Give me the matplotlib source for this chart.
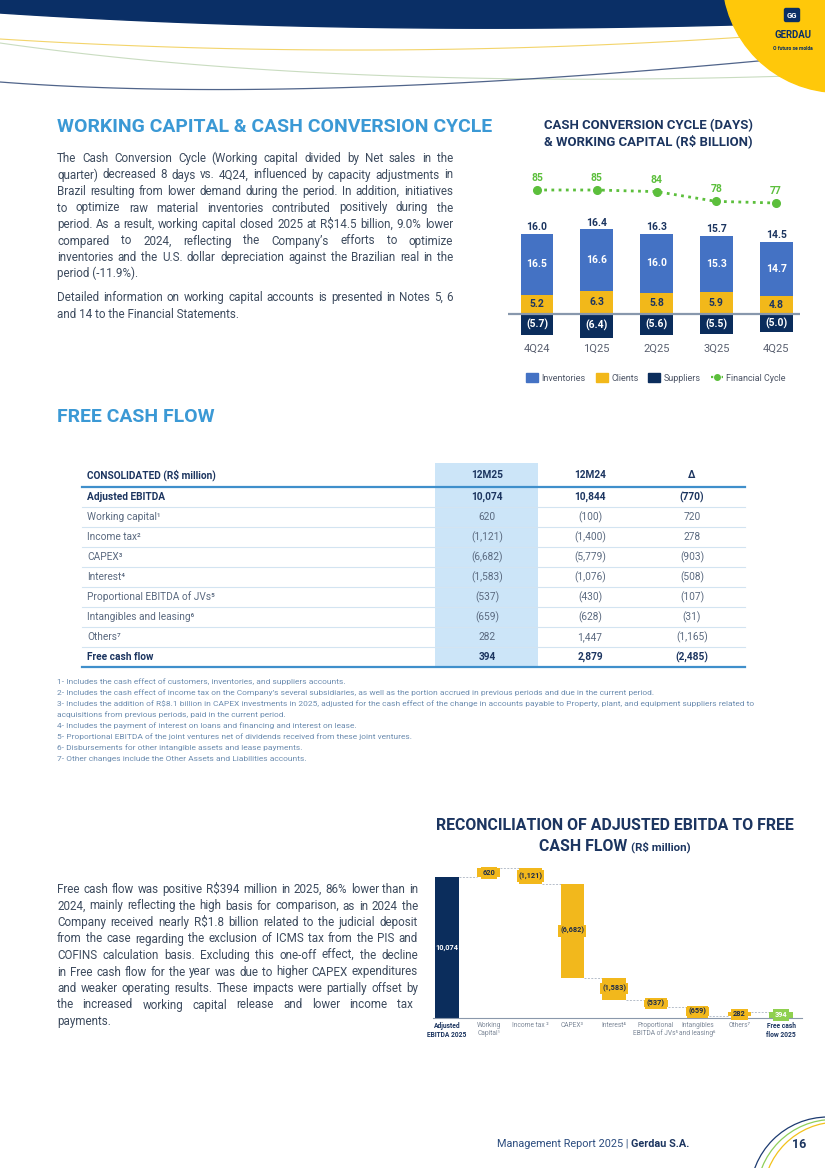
import matplotlib
matplotlib.use('Agg')
import matplotlib.pyplot as plt
from matplotlib.patches import Polygon, Rectangle, Circle, FancyBboxPatch, Patch
from matplotlib.lines import Line2D
import numpy as np

W, H = 825, 1168
FAM = ['Roboto', 'DejaVu Sans']
plt.rcParams['font.family'] = FAM

# ---------------- data ----------------
quarters = ['4Q24', '1Q25', '2Q25', '3Q25', '4Q25']
inventories = [16.5, 16.6, 16.0, 15.3, 14.7]
clients = [5.2, 6.3, 5.8, 5.9, 4.8]
suppliers = [-5.7, -6.4, -5.6, -5.5, -5.0]
working_capital = [16.0, 16.4, 16.3, 15.7, 14.5]
financial_cycle = [85, 85, 84, 78, 77]

table_labels = ['Adjusted EBITDA', 'Working capital\u00b9', 'Income tax\u00b2', 'CAPEX\u00b3',
                'Interest\u2074', 'Proportional EBITDA of JVs\u2075', 'Intangibles and leasing\u2076',
                'Others\u2077', 'Free cash flow']
table_bold = [True, False, False, False, False, False, False, False, True]
col_headers = ['12M25', '12M24', '\u0394']
v12m25 = [10074, 620, -1121, -6682, -1583, -537, -659, 282, 394]
v12m24 = [10844, -100, -1400, -5779, -1076, -430, -628, 1447, 2879]
vdelta = [-770, 720, 278, -903, -508, -107, -31, -1165, -2485]

wf_labels = ['Adjusted\nEBITDA 2025', 'Working\nCapital\u00b9', 'Income tax \u00b2', 'CAPEX\u00b3',
             'Interest\u2074', 'Proportional\nEBITDA of JVs\u2075', 'Intangibles\nand leasing\u2076',
             'Others\u2077', 'Free cash\nflow 2025']

# ---------------- colours ----------------
NAVY = '#0c2d5b'
TNAVY = '#1c3560'
HEAD = '#3b99d5'
BODY = '#3d4b5e'
INV = '#4472c4'
CLI = '#f2b81a'
SUP = '#0b2d5c'
GRN = '#5cbf3c'
YEL = '#f2b81c'
FCFG = '#8fd04f'
GOLD = '#ffc80a'

fig = plt.figure(figsize=(W / 100, H / 100), dpi=100)
fig.patch.set_facecolor('white')
bg = fig.add_axes([0, 0, 1, 1])
bg.set_xlim(0, W)
bg.set_ylim(H, 0)
bg.axis('off')
renderer = fig.canvas.get_renderer()


def px_axes(l, t, r, b):
    return fig.add_axes([l / W, 1 - b / H, (r - l) / W, (b - t) / H])


def tw(s, size, weight='normal'):
    t = bg.text(0, 0, s, fontsize=size, fontweight=weight)
    w = t.get_window_extent(renderer=renderer).width
    t.remove()
    return w


def fit(s, width, weight='normal', base=10.0):
    return base * width / tw(s, base, weight)


def bez(p0, p1, p2, n=80):
    t = np.linspace(0, 1, n)[:, None]
    p0, p1, p2 = map(np.array, (p0, p1, p2))
    return (1 - t) ** 2 * p0 + 2 * (1 - t) * t * p1 + t ** 2 * p2


def paragraph(lines, flags, x0, x1, y0, dy, size, color):
    for i, (line, j) in enumerate(zip(lines, flags)):
        y = y0 + i * dy
        if j:
            words = line.split(' ')
            ws = [tw(w_, size) for w_ in words]
            gap = (x1 - x0 - sum(ws)) / (len(words) - 1)
            x = x0
            for w_, wd in zip(words, ws):
                bg.text(x, y, w_, fontsize=size, color=color, va='baseline', ha='left')
                x += wd + gap
        else:
            bg.text(x0, y, line, fontsize=size, color=color, va='baseline', ha='left')


def fmt(v):
    s = f'{abs(v):,}'
    return f'({s})' if v < 0 else s


# ---------------- header decoration ----------------
navy_edge = bez((830, 22), (380, 38), (0, 13))
bg.add_patch(Polygon(np.vstack([[[0, 0], [830, 0]], navy_edge]), closed=True,
                     color='#0a2f66', zorder=1))
for p, c, lw in [(((0, 39), (370, 62), (745, 37)), '#f3d46a', 0.8),
                 (((0, 43), (330, 90), (790, 76)), '#c9dcc0', 0.8),
                 (((0, 82), (300, 105), (790, 58)), '#50648a', 0.9)]:
    pts = bez(*p)
    bg.plot(pts[:, 0], pts[:, 1], color=c, lw=lw, zorder=1)
bg.add_patch(Circle((839, -24), 116.5, color=GOLD, zorder=2))
bg.add_patch(FancyBboxPatch((785, 9), 14, 12, boxstyle='round,pad=0.5,rounding_size=1.5',
                            color='#0a2f66', zorder=3))
bg.text(792, 15.5, 'GG', color='white', fontsize=5.5, fontweight='bold', ha='center',
        va='center', zorder=4)
bg.text(793, 35, 'GERDAU', color='#0a2f66', fontsize=fit('GERDAU', 37, 'bold'),
        fontweight='bold', ha='center', va='center', zorder=4)
bg.text(793, 48, 'O futuro se molda', color='#0a2f66',
        fontsize=fit('O futuro se molda', 40, 'bold'), fontweight='bold', ha='center',
        va='center', zorder=4)

# ---------------- headings ----------------
h1 = 'WORKING CAPITAL & CASH CONVERSION CYCLE'
hs = fit(h1, 435, 'bold')
bg.text(57, 127, h1, fontsize=hs, fontweight='bold', color=HEAD, va='center', ha='left')
bg.text(57, 417, 'FREE CASH FLOW', fontsize=hs, fontweight='bold', color=HEAD,
        va='center', ha='left')

# ---------------- body paragraphs ----------------
paraA = ['The Cash Conversion Cycle (Working capital divided by Net sales in the',
         'quarter) decreased 8 days vs. 4Q24, influenced by capacity adjustments in',
         'Brazil resulting from lower demand during the period. In addition, initiatives',
         'to optimize raw material inventories contributed positively during the',
         'period. As a result, working capital closed 2025 at R$14.5 billion, 9.0% lower',
         'compared to 2024, reflecting the Company\u2019s efforts to optimize',
         'inventories and the U.S. dollar depreciation against the Brazilian real in the',
         'period (-11.9%).']
flagsA = [True] * 7 + [False]
paraB = ['Detailed information on working capital accounts is presented in Notes 5, 6',
         'and 14 to the Financial Statements.']
flagsB = [True, False]
paraC = ['Free cash flow was positive R$394 million in 2025, 86% lower than in',
         '2024, mainly reflecting the high basis for comparison, as in 2024 the',
         'Company received nearly R$1.8 billion related to the judicial deposit',
         'from the case regarding the exclusion of ICMS tax from the PIS and',
         'COFINS calculation basis. Excluding this one-off effect, the decline',
         'in Free cash flow for the year was due to higher CAPEX expenditures',
         'and weaker operating results. These impacts were partially offset by',
         'the increased working capital release and lower income tax',
         'payments.']
flagsC = [True] * 8 + [False]

wA = max(tw(l, 10) for l, f in zip(paraA + paraB, flagsA + flagsB) if f)
bsA = min(9.0, 10 * 396 / wA * 0.985)
paragraph(paraA, flagsA, 57, 453, 162, 16.5, bsA, BODY)
paragraph(paraB, flagsB, 57, 453, 301, 16.5, bsA, BODY)
wC = max(tw(l, 10) for l, f in zip(paraC, flagsC) if f and not l.startswith('the increased'))
bsC = min(9.0, 10 * 361 / wC * 0.985)
paragraph(paraC[:7], flagsC[:7], 57, 418, 893, 16.5, bsC, BODY)
paragraph(paraC[7:8], [True], 57, 413, 893 + 7 * 16.5, 16.5, bsC, BODY)
paragraph(paraC[8:], [False], 57, 418, 893 + 8 * 16.5, 16.5, bsC, BODY)

# ---------------- top chart ----------------
t1 = 'CASH CONVERSION CYCLE (DAYS)'
t2 = '& WORKING CAPITAL (R$ BILLION)'
ts = fit(t2, 208, 'bold')
bg.text(648, 126, t1, fontsize=ts, fontweight='bold', color=TNAVY, ha='center', va='center')
bg.text(648, 141, t2, fontsize=ts, fontweight='bold', color=TNAVY, ha='center', va='center')

PXU = 3.69
ax1 = px_axes(508, 160, 800, 340)
ax1.set_xlim(-0.485, 4.4)
ax1.set_ylim(-(340 - 314) / PXU, (314 - 160) / PXU)
x = np.arange(len(quarters))
bw = 0.55
b_cli = ax1.bar(x, clients, bw, color=CLI, zorder=2)
b_inv = ax1.bar(x, inventories, bw, bottom=clients, color=INV, zorder=2)
b_sup = ax1.bar(x, suppliers, bw, color=SUP, zorder=2)
ax1.axhline(0, color='#8898ad', lw=1.6, zorder=3)
for i in range(len(quarters)):
    ax1.text(x[i], clients[i] + inventories[i] / 2, f'{inventories[i]:.1f}', ha='center',
             va='center', color='white', fontweight='bold', fontsize=7.5, zorder=4)
    ax1.text(x[i], clients[i] / 2, f'{clients[i]:.1f}', ha='center', va='center',
             color=TNAVY, fontweight='bold', fontsize=7.5, zorder=4)
    ax1.text(x[i], suppliers[i] / 2, f'({abs(suppliers[i]):.1f})', ha='center', va='center',
             color='white', fontweight='bold', fontsize=7.5, zorder=4)
    ax1.annotate(f'{working_capital[i]:.1f}', (x[i], clients[i] + inventories[i]),
                 xytext=(0, 4.8), textcoords='offset points', ha='center', va='center',
                 color=TNAVY, fontweight='bold', fontsize=7.5)
ax1.set_xticks(x)
ax1.set_xticklabels(quarters, fontsize=8, color='#5a6070')
ax1.tick_params(axis='x', length=0, pad=3)
ax1.set_yticks([])
for s in ax1.spines.values():
    s.set_visible(False)
ax1.set_facecolor('none')

ax2 = ax1.twinx()
ax2.set_ylim(85 - (340 - 190) / 1.625, 85 + (190 - 160) / 1.625)
ln, = ax2.plot(x, financial_cycle, ls=(0, (1, 1.6)), lw=2, color=GRN, marker='o', ms=5.5)
for i, v in enumerate(financial_cycle):
    ax2.annotate(str(v), (x[i], v), xytext=(0, 8.6), textcoords='offset points',
                 ha='center', va='center', color=GRN, fontweight='bold', fontsize=7.5)
ax2.axis('off')

handles = [Patch(color=INV), Patch(color=CLI), Patch(color=SUP),
           Line2D([], [], ls=(0, (1, 1.4)), lw=1.6, color=GRN, marker='o', ms=4)]
fig.legend(handles, ['Inventories', 'Clients', 'Suppliers', 'Financial Cycle'], loc='center',
           bbox_to_anchor=(656 / W, 1 - 378 / H), ncol=4, frameon=False, fontsize=6.5,
           handlelength=1.3, handleheight=1.2, handletextpad=0.4, columnspacing=1.1,
           labelcolor='#4d5566')

# ---------------- table ----------------
bg.add_patch(Rectangle((435, 463), 103, 204, color='#cce5f8', zorder=0, lw=0))
ths = 7.3
bg.text(87, 475, 'CONSOLIDATED (R$ million)', fontsize=ths, fontweight='bold', color=TNAVY,
        va='center')
col_x = [487, 590, 692]
for cx, ch in zip(col_x, col_headers):
    bg.text(cx, 475, ch, fontsize=ths, fontweight='bold', color=TNAVY, ha='center', va='center')
bg.plot([82, 745], [487, 487], color='#3f8fcb', lw=1.6, zorder=2)
bg.plot([82, 745], [667, 667], color='#3f8fcb', lw=1.6, zorder=2)
for i in range(len(table_labels) - 1):
    yy = 507 + 20 * i
    bg.plot([82, 745], [yy, yy], color='#d3e4f1', lw=0.8, zorder=1)
for i, lab in enumerate(table_labels):
    yy = 497 + 20 * i
    wt = 'bold' if table_bold[i] else 'normal'
    col = TNAVY if table_bold[i] else '#5b6a80'
    bg.text(87, yy, lab, fontsize=ths, fontweight=wt, color=col, va='center')
    for cx, vals in zip(col_x, (v12m25, v12m24, vdelta)):
        bg.text(cx, yy, fmt(vals[i]), fontsize=ths, fontweight=wt, color=col, ha='center',
                va='center')

# ---------------- footnotes ----------------
notes = ['1- Includes the cash effect of customers, inventories, and suppliers accounts.',
         '2- Includes the cash effect of income tax on the Company\u2019s several subsidiaries, as well as the portion accrued in previous periods and due in the current period.',
         '3- Includes the addition of R$8.1 billion in CAPEX investments in 2025, adjusted for the cash effect of the change in accounts payable to Property, plant, and equipment suppliers related to',
         'acquisitions from previous periods, paid in the current period.',
         '4- Includes the payment of interest on loans and financing and interest on lease.',
         '5- Proportional EBITDA of the joint ventures net of dividends received from these joint ventures.',
         '6- Disbursements for other intangible assets and lease payments.',
         '7- Other changes include the Other Assets and Liabilities accounts.']
ns = min(6.0, fit(notes[2], 711))
for i, n in enumerate(notes):
    bg.text(57, 682 + 11 * i, n, fontsize=ns, color='#6d8db0', va='center')

# ---------------- waterfall ----------------
w1 = 'RECONCILIATION OF ADJUSTED EBITDA TO FREE'
wts = fit(w1, 357, 'bold')
bg.text(615, 826, w1, fontsize=wts, fontweight='bold', color=TNAVY, ha='center', va='center')
p1, p2 = 'CASH FLOW ', '(R$ million)'
sm = wts * 0.72
wp1, wp2 = tw(p1, wts, 'bold'), tw(p2, sm, 'bold')
x0 = 615 - (wp1 + wp2) / 2
bg.text(x0, 851, p1, fontsize=wts, fontweight='bold', color=TNAVY, ha='left', va='baseline')
bg.text(x0 + wp1, 851, p2, fontsize=sm, fontweight='bold', color=TNAVY, ha='left',
        va='baseline')

ax3 = px_axes(433, 858, 802, 1018)
ax3.set_xlim(-0.335, 8.5)
ax3.set_ylim(0, 160 / (141 / 10074))
bw3 = 0.56
xs = np.arange(len(wf_labels))
deltas = v12m25[1:-1]
ax3.bar(0, v12m25[0], bw3, color=SUP, zorder=2)
ax3.text(0, v12m25[0] / 2, fmt(v12m25[0]), color='white', fontweight='bold', fontsize=5.3,
         ha='center', va='center', zorder=4)
level = v12m25[0]
levels = [level]
for i, d in enumerate(deltas, start=1):
    ax3.bar(i, d, bw3, bottom=level, color=YEL, zorder=2)
    ax3.text(i, level + d / 2, fmt(d), color='#1b2a4a', fontweight='bold', fontsize=5.3,
             ha='center', va='center', zorder=4,
             bbox=dict(boxstyle='square,pad=0.25', fc=YEL, ec='none'))
    level += d
    levels.append(level)
ax3.bar(8, v12m25[-1], bw3, color=FCFG, zorder=2)
ax3.text(8, v12m25[-1] / 2, fmt(v12m25[-1]), color='white', fontweight='bold', fontsize=5.3,
         ha='center', va='center', zorder=4,
         bbox=dict(boxstyle='square,pad=0.25', fc=FCFG, ec='none'))
for i, lv in enumerate(levels):
    ax3.plot([i + bw3 / 2, i + 1 - bw3 / 2], [lv, lv], ls=(0, (2, 1.5)), color='#b5bdc9',
             lw=0.7, zorder=1)
ax3.set_xticks(xs)
ax3.set_xticklabels(wf_labels, fontsize=4.8, color='#7d8898', linespacing=1.1)
for k, tl in enumerate(ax3.get_xticklabels()):
    if k in (0, len(wf_labels) - 1):
        tl.set_color(TNAVY)
        tl.set_fontweight('bold')
ax3.tick_params(axis='x', length=0, pad=3)
ax3.set_yticks([])
for nm, s in ax3.spines.items():
    s.set_visible(nm == 'bottom')
ax3.spines['bottom'].set_color('#8a98ab')
ax3.spines['bottom'].set_linewidth(0.8)
ax3.set_facecolor('none')

# ---------------- footer ----------------
f1, f2 = 'Management Report 2025 | ', 'Gerdau S.A.'
fs_ = fit(f1 + f2, 190)
wf1 = tw(f1, fs_)
bg.text(497, 1144, f1, fontsize=fs_, color='#2b4c7e', ha='left', va='center')
bg.text(497 + wf1, 1144, f2, fontsize=fs_, color='#1c3560', fontweight='bold', ha='left',
        va='center')
bg.text(799, 1145, '16', fontsize=9, color='#1c3560', fontweight='bold', ha='center',
        va='center')
for c, col in [((828, 1195), '#1c3a70'), ((833, 1196), '#8fcf5a'), ((838, 1197), '#f2c21a')]:
    bg.add_patch(Circle(c, 78 - (c[0] - 828) * 0.3, fill=False, ec=col, lw=0.9))

fig.savefig('out.png', dpi=100)
